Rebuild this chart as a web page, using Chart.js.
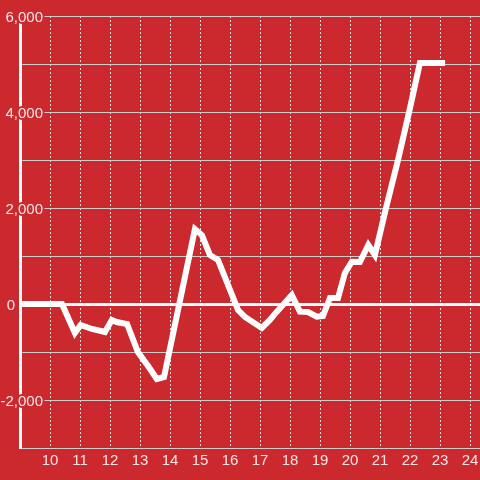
<!DOCTYPE html>
<html>
<head>
<meta charset="utf-8">
<script src="https://cdn.jsdelivr.net/npm/chart.js@4/dist/chart.umd.min.js"></script>
<style>
html,body{margin:0;padding:0;background:#cc292e;}
canvas{display:block;}
</style>
</head>
<body>
<canvas id="c" width="480" height="480"></canvas>
<script>
// Data
const xValues = [9, 10.4, 10.83, 11.02, 11.4, 11.83, 12.06, 12.22, 12.57, 12.93, 13.27, 13.56, 13.8,
  14.83, 15.06, 15.33, 15.6, 16.27, 16.5, 17.06, 17.33, 17.56, 18.06, 18.33, 18.6, 18.89, 19.1,
  19.33, 19.6, 19.83, 20.06, 20.33, 20.61, 20.83, 21.2, 21.6, 21.97, 22.33, 23.17];
const yValues = [0, 0, -604, -437, -520, -583, -333, -375, -417, -1000, -1292, -1562, -1521,
  1562, 1437, 1021, 917, -125, -271, -500, -333, -160, 187, -160, -167, -264, -250,
  125, 125, 646, 881, 875, 1229, 1021, 2000, 3000, 4000, 5020, 5020];
const xTickValues = [10, 11, 12, 13, 14, 15, 16, 17, 18, 19, 20, 21, 22, 23, 24];
const yTickValues = [6000, 4000, 2000, 0, -2000];
const yTickLabels = ['6,000', '4,000', '2,000', '0', '-2,000'];

const BG = '#cc292e';
const TEXT = 'rgba(255,255,255,0.88)';
const FONT = "'Liberation Sans', Arial, sans-serif";

const points = xValues.map((x, i) => ({x: x, y: yValues[i]}));

const bgPlugin = {
  id: 'bg',
  beforeDraw(chart) {
    const ctx = chart.ctx;
    ctx.save();
    ctx.fillStyle = BG;
    ctx.fillRect(0, 0, chart.width, chart.height);
    ctx.restore();
  }
};

const yLabelPlugin = {
  id: 'ylabels',
  beforeDatasetsDraw(chart) {
    const ctx = chart.ctx;
    const ys = chart.scales.y;
    ctx.save();
    ctx.font = '15px ' + FONT;
    ctx.textAlign = 'right';
    ctx.textBaseline = 'alphabetic';
    ctx.lineJoin = 'round';
    yTickValues.forEach((v, i) => {
      const y = ys.getPixelForValue(v);
      const label = yTickLabels[i];
      // the zero label sits left of the axis line
      const right = (v === 0) ? 15 : 43;
      ctx.lineWidth = 4;
      ctx.strokeStyle = BG;
      ctx.strokeText(label, right, y + 5.5);
      ctx.fillStyle = TEXT;
      ctx.fillText(label, right, y + 5.5);
    });
    ctx.restore();
  }
};

new Chart(document.getElementById('c'), {
  type: 'line',
  data: {
    datasets: [{
      data: points,
      borderColor: '#ffffff',
      borderWidth: 6,
      pointRadius: 0,
      tension: 0,
      fill: false
    }]
  },
  options: {
    responsive: false,
    animation: false,
    devicePixelRatio: 1,
    layout: {padding: {left: 20, top: 16, right: 0, bottom: 6}},
    plugins: {legend: {display: false}, tooltip: {enabled: false}},
    scales: {
      x: {
        type: 'linear',
        min: 9,
        max: 24.333,
        afterBuildTicks(scale) {
          scale.ticks = xTickValues.map(v => ({value: v}));
        },
        afterFit(scale) {
          scale.paddingLeft = 0;
          scale.paddingRight = 0;
        },
        grid: {color: '#dddddd', lineWidth: 1, drawTicks: false},
        border: {display: true, color: '#cccccc', width: 1, dash: [2, 2]},
        ticks: {
          autoSkip: false,
          maxRotation: 0,
          padding: 4,
          color: TEXT,
          font: {size: 15, family: FONT},
          callback: v => String(v)
        }
      },
      y: {
        min: -3000,
        max: 6000,
        afterFit(scale) {
          scale.paddingTop = 0;
          scale.paddingBottom = 0;
        },
        ticks: {display: false, stepSize: 1000},
        grid: {
          drawTicks: false,
          color: c => (c.tick && c.tick.value === 0) ? '#ffffff' : '#cccccc',
          lineWidth: c => (c.tick && c.tick.value === 0) ? 3 : 1
        },
        border: {display: true, color: '#ffffff', width: 3}
      }
    }
  },
  plugins: [bgPlugin, yLabelPlugin]
});
</script>
</body>
</html>
